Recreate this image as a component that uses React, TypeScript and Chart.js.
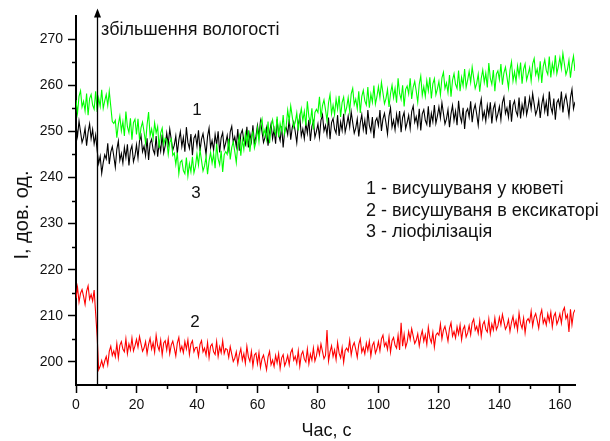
import React, { useEffect, useRef } from "react";
import { Chart, registerables } from "chart.js";

Chart.register(...registerables);

// Sampling step of the recorded signals, seconds
const timeStep = 0.5;

// Series 1 – висушуваня у кюветі (black)
const series1 = [
  251.3, 248.9, 252.2, 249.9, 247.6, 248.7, 250.7, 246.9, 249.8, 251.6, 248.4, 250.4, 247.3, 249.2, 245.8, 243.0, 244.6, 240.9, 243.2, 244.9,
  244.0, 247.4, 242.9, 245.5, 246.7, 244.6, 242.2, 246.1, 247.9, 243.7, 245.2, 243.1, 246.5, 244.3, 247.2, 242.6, 245.8, 246.9, 243.4, 244.7,
  247.1, 244.2, 247.9, 249.1, 245.6, 246.8, 244.7, 248.5, 243.8, 247.4, 248.3, 246.0, 245.1, 249.0, 244.5, 247.5, 245.7, 249.3, 245.3, 246.9,
  249.6, 247.2, 250.5, 248.2, 245.9, 247.0, 249.0, 245.2, 248.1, 249.9, 246.7, 248.7, 245.6, 250.9, 247.6, 246.3, 249.4, 244.8, 248.5, 249.2,
  246.8, 250.2, 245.7, 248.3, 249.5, 247.4, 245.0, 248.9, 250.7, 246.5, 248.0, 245.9, 249.3, 247.1, 250.0, 245.4, 248.6, 249.7, 246.2, 247.5,
  249.1, 246.2, 249.9, 251.1, 247.6, 248.8, 246.7, 250.5, 245.8, 249.4, 250.3, 248.0, 247.1, 251.0, 246.5, 249.5, 247.7, 251.3, 247.3, 248.9,
  251.3, 248.9, 252.2, 249.9, 247.6, 248.7, 250.7, 246.9, 249.8, 251.6, 248.4, 250.4, 247.3, 252.6, 249.3, 248.0, 251.1, 246.5, 250.2, 250.9,
  249.3, 252.7, 248.2, 250.8, 252.0, 249.9, 247.5, 251.4, 253.2, 249.0, 250.5, 248.4, 251.8, 249.6, 252.5, 247.9, 251.1, 252.2, 248.7, 250.0,
  251.6, 248.7, 252.4, 253.6, 250.1, 251.3, 249.2, 253.0, 248.3, 251.9, 252.8, 250.5, 249.6, 253.5, 249.0, 252.0, 250.2, 253.8, 249.8, 251.4,
  253.3, 250.9, 254.2, 251.9, 249.6, 250.7, 252.7, 248.9, 251.8, 253.6, 250.4, 252.4, 249.3, 254.6, 251.3, 250.0, 253.1, 248.5, 252.2, 252.9,
  251.2, 254.6, 250.1, 252.7, 253.9, 251.8, 249.4, 253.3, 255.1, 250.9, 252.4, 250.3, 253.7, 251.5, 254.4, 249.8, 253.0, 254.1, 250.6, 251.9,
  253.5, 250.6, 254.3, 255.5, 252.0, 253.2, 251.1, 254.9, 250.2, 253.8, 254.7, 252.4, 251.5, 255.4, 250.9, 253.9, 252.1, 255.7, 251.7, 253.3,
  255.3, 252.9, 256.2, 253.9, 251.6, 252.7, 254.7, 250.9, 253.8, 255.6, 252.4, 254.4, 251.3, 256.6, 253.3, 252.0, 255.1, 250.5, 254.2, 254.9,
  253.1, 256.5, 252.0, 254.6, 255.8, 253.7, 251.3, 255.2, 257.0, 252.8, 254.3, 252.2, 255.6, 253.4, 256.3, 251.7, 254.9, 256.0, 252.5, 253.8,
  255.4, 252.5, 256.2, 257.4, 253.9, 255.1, 253.0, 256.8, 252.1, 255.7, 256.6, 254.3, 253.4, 257.3, 252.8, 255.8, 254.0, 257.6, 253.6, 255.2,
  257.3, 254.9, 258.2, 255.9, 253.6, 254.7, 256.7, 252.9, 255.8, 257.6, 254.4, 256.4, 253.3, 258.6, 255.3, 254.0, 257.1, 252.5, 256.2, 256.9,
  255.2, 258.6, 254.1, 256.7, 257.9, 255.8, 253.4, 257.3, 259.1, 254.9, 256.4,
];

// Series 2 – висушуваня в ексикаторі (red)
const series2 = [
  213.8, 216.2, 213.0, 214.9, 215.7, 214.2, 212.5, 215.3, 216.5, 213.6, 214.6, 213.2, 215.6, 210.5, 205.5, 198.3, 199.1, 200.3, 198.9, 200.2,
  201.2, 199.4, 202.3, 203.4, 201.4, 202.4, 201.1, 204.0, 200.9, 203.6, 204.4, 202.8, 202.2, 205.0, 201.8, 203.9, 202.6, 205.2, 202.4, 203.5,
  204.9, 203.2, 205.5, 203.9, 202.3, 203.0, 204.4, 201.8, 203.8, 205.1, 202.8, 204.2, 202.1, 205.8, 203.5, 202.5, 204.7, 201.5, 204.1, 204.6,
  202.6, 205.0, 201.8, 203.7, 204.5, 203.0, 201.3, 204.1, 205.3, 202.4, 203.4, 202.0, 204.4, 202.8, 204.8, 201.6, 203.9, 204.6, 202.2, 203.1,
  203.2, 201.2, 203.8, 204.6, 202.2, 203.0, 201.5, 204.2, 200.9, 203.4, 203.9, 202.2, 201.6, 204.4, 201.2, 203.3, 202.0, 204.6, 201.8, 202.9,
  202.7, 201.0, 203.3, 201.7, 200.1, 200.8, 202.2, 199.6, 201.6, 202.9, 200.4, 201.8, 199.7, 203.4, 201.1, 200.1, 202.3, 199.1, 201.5, 201.9,
  199.6, 202.0, 198.8, 200.7, 201.5, 200.0, 198.3, 201.1, 202.3, 199.4, 200.4, 199.0, 201.4, 199.8, 201.8, 198.6, 200.9, 201.6, 199.2, 200.1,
  201.4, 199.4, 202.0, 202.8, 200.4, 201.2, 199.7, 202.4, 199.1, 201.6, 202.3, 200.6, 200.0, 202.8, 199.6, 201.7, 200.4, 203.0, 200.2, 201.3,
  203.3, 201.6, 203.9, 202.3, 200.7, 201.4, 206.9, 200.2, 202.2, 203.5, 201.2, 202.6, 200.5, 204.2, 201.9, 200.9, 203.1, 199.9, 202.5, 203.0,
  202.3, 204.7, 201.5, 203.4, 204.2, 202.7, 201.0, 203.8, 205.0, 202.1, 203.1, 201.7, 204.1, 202.5, 204.5, 201.3, 203.6, 204.3, 201.9, 202.8,
  204.4, 202.4, 205.0, 205.8, 203.4, 204.2, 202.7, 205.4, 202.1, 204.6, 205.3, 203.6, 203.0, 205.8, 202.6, 208.5, 203.4, 206.0, 203.2, 204.3,
  206.6, 204.9, 207.2, 205.6, 204.0, 204.7, 206.1, 203.5, 205.5, 206.8, 204.5, 205.9, 203.8, 207.5, 205.2, 204.2, 206.4, 203.2, 205.8, 206.3,
  205.8, 208.2, 205.0, 206.9, 207.7, 206.2, 204.5, 207.3, 208.5, 205.6, 206.6, 205.2, 207.6, 206.0, 208.0, 204.8, 207.1, 207.8, 205.4, 206.3,
  207.9, 205.9, 208.5, 209.3, 206.9, 207.7, 206.2, 208.9, 205.6, 208.1, 208.8, 207.1, 206.5, 209.3, 206.1, 208.2, 206.9, 209.5, 207.0, 207.8,
  209.7, 208.0, 210.3, 208.7, 207.1, 207.8, 209.2, 206.6, 208.6, 209.9, 207.6, 209.0, 206.9, 210.6, 208.3, 207.3, 209.5, 206.3, 208.9, 209.4,
  208.6, 211.0, 207.8, 209.7, 210.5, 209.0, 207.3, 210.1, 211.3, 208.4, 209.4, 208.0, 210.4, 208.8, 210.8, 207.6, 209.9, 210.6, 208.2, 209.1,
  210.4, 208.4, 211.0, 211.8, 209.4, 210.2, 206.5, 211.4, 208.1, 210.6, 211.3,
];

// Series 3 – ліофілізація (green)
const series3 = [
  256.8, 253.9, 257.6, 258.8, 255.3, 256.5, 254.4, 258.2, 253.5, 257.1, 258.0, 255.7, 254.8, 258.7, 254.2, 257.2, 255.4, 259.0, 255.0, 256.6,
  258.0, 255.6, 258.7, 255.4, 252.1, 251.7, 252.4, 248.6, 251.5, 253.3, 250.1, 252.1, 249.0, 254.3, 251.0, 249.7, 252.8, 248.2, 251.9, 252.6,
  249.3, 252.7, 248.2, 250.8, 252.0, 249.9, 247.5, 251.4, 254.2, 249.0, 250.5, 248.4, 251.8, 249.6, 251.0, 246.4, 249.6, 250.7, 247.2, 248.5,
  248.1, 245.0, 247.6, 248.3, 244.8, 245.3, 242.8, 245.4, 240.8, 243.3, 243.7, 241.5, 240.8, 244.3, 240.3, 243.0, 241.2, 244.5, 241.0, 242.4,
  245.1, 242.7, 246.0, 243.7, 241.4, 242.5, 244.5, 240.7, 243.6, 245.4, 243.1, 245.1, 242.0, 247.3, 244.0, 242.7, 245.8, 241.2, 244.9, 245.6,
  245.0, 248.4, 243.9, 246.5, 247.7, 245.6, 243.2, 247.1, 248.9, 244.7, 248.2, 246.1, 249.5, 247.3, 250.2, 245.6, 248.8, 249.9, 246.4, 247.7,
  250.7, 247.8, 251.5, 252.7, 249.2, 250.4, 248.3, 252.1, 247.4, 251.0, 252.5, 250.2, 249.3, 253.2, 248.7, 251.7, 249.9, 253.5, 249.5, 251.1,
  254.6, 252.2, 255.5, 253.2, 250.9, 252.0, 254.0, 250.2, 253.1, 254.9, 252.3, 254.3, 251.2, 256.5, 253.2, 251.9, 255.0, 250.4, 254.1, 254.8,
  254.1, 257.5, 253.0, 255.6, 256.8, 254.7, 252.3, 256.2, 258.0, 253.8, 255.7, 253.6, 257.0, 254.8, 257.7, 253.1, 256.3, 257.4, 253.9, 255.2,
  257.3, 254.4, 258.1, 259.3, 255.8, 257.0, 254.9, 258.7, 254.0, 257.6, 258.9, 256.6, 255.7, 259.6, 255.1, 258.1, 256.3, 259.9, 255.9, 257.5,
  259.7, 257.3, 260.6, 258.3, 256.0, 257.1, 259.1, 255.3, 258.2, 260.0, 257.3, 259.3, 256.2, 261.5, 258.2, 256.9, 260.0, 255.4, 259.1, 259.8,
  258.1, 261.5, 257.0, 259.6, 260.8, 258.7, 256.3, 260.2, 262.0, 257.8, 259.7, 257.6, 261.0, 258.8, 261.7, 257.1, 260.3, 261.4, 257.9, 259.2,
  260.8, 257.9, 261.6, 262.8, 259.3, 260.5, 258.4, 262.2, 257.5, 261.1, 262.5, 260.2, 259.3, 263.2, 258.7, 261.7, 259.9, 263.5, 259.5, 261.1,
  263.0, 260.6, 263.9, 261.6, 259.3, 260.4, 262.4, 258.6, 261.5, 263.3, 260.6, 262.6, 259.5, 264.8, 261.5, 260.2, 263.3, 258.7, 262.4, 263.1,
  261.2, 264.6, 260.1, 262.7, 263.9, 261.8, 259.4, 263.3, 265.1, 260.9, 262.9, 260.8, 264.2, 262.0, 264.9, 260.3, 263.5, 264.6, 261.1, 262.4,
  263.8, 260.9, 264.6, 265.8, 262.3, 263.5, 261.4, 265.2, 260.5, 264.1, 265.5, 263.2, 262.3, 266.2, 261.7, 264.7, 262.9, 266.5, 262.5, 264.1,
  266.0, 263.6, 266.9, 264.6, 262.3, 263.4, 265.4, 261.6, 264.5, 266.3, 263.1,
];

// Axes
const xMin = 0;
const xMax = 165;
const xMajorTicks = [0, 20, 40, 60, 80, 100, 120, 140, 160];
const xMinorTicks = [10, 30, 50, 70, 90, 110, 130, 150];
const yMin = 195;
const yMax = 275;
const yMajorTicks = [200, 210, 220, 230, 240, 250, 260, 270];
const yMinorTicks = [205, 215, 225, 235, 245, 255, 265];

// Texts
const xTitle = "Час, с";
const yTitle = "I, дов. од.";
const arrowLabel = "збільшення вологості";
const legendLines = [
  "1 - висушуваня у кюветі",
  "2 - висушуваня в ексикаторі",
  "3 - ліофілізація",
];
// annotation anchors in data units
const arrowTime = 7;
const arrowTop = 276.6;
const arrowLabelPos = { x: 8.3, y: 272 };
const curveLabels = [
  { text: "1", x: 40, y: 254.5 },
  { text: "3", x: 39.7, y: 236.5 },
  { text: "2", x: 39.3, y: 208.6 },
];
const legendPos = { x: 95.9, y: [237.5, 232.8, 228.2] };

const FONT = '"Liberation Sans", Arial, sans-serif';

const toPoints = (arr: number[]) => arr.map((v, i) => ({ x: i * timeStep, y: v }));

const overlayPlugin = {
  id: "overlay",
  afterDraw(chart: any) {
    const { ctx, chartArea } = chart;
    const xs = chart.scales.x;
    const ys = chart.scales.y;
    ctx.save();
    ctx.strokeStyle = "#000";
    ctx.fillStyle = "#000";
    ctx.lineWidth = 1.5;
    // minor ticks
    for (const t of xMinorTicks) {
      const px = Math.round(xs.getPixelForValue(t)) + 0.5;
      ctx.beginPath();
      ctx.moveTo(px, chartArea.bottom);
      ctx.lineTo(px, chartArea.bottom + 4);
      ctx.stroke();
    }
    for (const v of yMinorTicks) {
      const py = Math.round(ys.getPixelForValue(v)) + 0.5;
      ctx.beginPath();
      ctx.moveTo(chartArea.left, py);
      ctx.lineTo(chartArea.left - 4, py);
      ctx.stroke();
    }
    // arrow
    const ax = Math.round(xs.getPixelForValue(arrowTime)) + 0.5;
    const ay0 = ys.getPixelForValue(yMin);
    const ay1 = ys.getPixelForValue(arrowTop);
    ctx.lineWidth = 1.3;
    ctx.beginPath();
    ctx.moveTo(ax, ay0);
    ctx.lineTo(ax, ay1 + 6);
    ctx.stroke();
    ctx.beginPath();
    ctx.moveTo(ax, ay1);
    ctx.lineTo(ax - 3.5, ay1 + 9);
    ctx.lineTo(ax + 3.5, ay1 + 9);
    ctx.closePath();
    ctx.fill();
    // texts
    ctx.textBaseline = "middle";
    ctx.textAlign = "left";
    ctx.font = `18px ${FONT}`;
    ctx.fillStyle = "#111";
    ctx.fillText(arrowLabel, xs.getPixelForValue(arrowLabelPos.x), ys.getPixelForValue(arrowLabelPos.y));
    legendLines.forEach((line, i) => {
      ctx.fillText(line, xs.getPixelForValue(legendPos.x), ys.getPixelForValue(legendPos.y[i]));
    });
    ctx.textAlign = "center";
    ctx.font = `17px ${FONT}`;
    for (const l of curveLabels) {
      ctx.fillText(l.text, xs.getPixelForValue(l.x), ys.getPixelForValue(l.y));
    }
    // axis titles
    ctx.font = `18px ${FONT}`;
    ctx.fillText(xTitle, (chartArea.left + chartArea.right) / 2 + 1, 431);
    ctx.save();
    ctx.translate(22, 215);
    ctx.rotate(-Math.PI / 2);
    ctx.font = `20px ${FONT}`;
    ctx.fillText(yTitle, 0, 0);
    ctx.restore();
    ctx.restore();
  },
};

export default function App() {
  const canvasRef = useRef<HTMLCanvasElement | null>(null);

  useEffect(() => {
    if (!canvasRef.current) return;
    const chart = new Chart(canvasRef.current, {
      type: "line",
      data: {
        datasets: [
          {
            label: legendLines[2],
            data: toPoints(series3),
            borderColor: "#00ff00",
            borderWidth: 1.1,
            pointRadius: 0,
            order: 0,
          },
          {
            label: legendLines[0],
            data: toPoints(series1),
            borderColor: "#000000",
            borderWidth: 1.1,
            pointRadius: 0,
            order: 1,
          },
          {
            label: legendLines[1],
            data: toPoints(series2),
            borderColor: "#ff0000",
            borderWidth: 1.1,
            pointRadius: 0,
            order: 2,
          },
        ],
      },
      options: {
        responsive: false,
        animation: false,
        layout: { padding: { top: 16, right: 35, left: 0, bottom: 0 } },
        plugins: {
          legend: { display: false },
          tooltip: { enabled: false },
          title: { display: false },
        },
        scales: {
          x: {
            type: "linear",
            min: xMin,
            max: xMax,
            afterFit: (s: any) => {
              s.height = 56;
            },
            afterBuildTicks: (s: any) => {
              s.ticks = xMajorTicks.map((v) => ({ value: v }));
            },
            ticks: {
              color: "#111",
              font: { family: FONT, size: 14 },
              padding: 4,
              maxRotation: 0,
              autoSkip: false,
            },
            grid: {
              display: true,
              drawOnChartArea: false,
              drawTicks: true,
              tickLength: 8,
              tickWidth: 1.5,
              tickColor: "#000",
            },
            border: { display: true, color: "#000", width: 2 },
          },
          y: {
            type: "linear",
            min: yMin,
            max: yMax,
            afterFit: (s: any) => {
              s.width = 76;
            },
            afterBuildTicks: (s: any) => {
              s.ticks = yMajorTicks.map((v) => ({ value: v }));
            },
            ticks: {
              color: "#111",
              font: { family: FONT, size: 14 },
              padding: 5,
              autoSkip: false,
            },
            grid: {
              display: true,
              drawOnChartArea: false,
              drawTicks: true,
              tickLength: 8,
              tickWidth: 1.5,
              tickColor: "#000",
            },
            border: { display: true, color: "#000", width: 2 },
          },
        },
      },
      plugins: [overlayPlugin],
    });
    return () => chart.destroy();
  }, []);

  return (
    <div style={{ position: "fixed", left: 0, top: 0, width: 610, height: 441, background: "#fff" }}>
      <canvas ref={canvasRef} width={610} height={441} style={{ display: "block" }} />
    </div>
  );
}
